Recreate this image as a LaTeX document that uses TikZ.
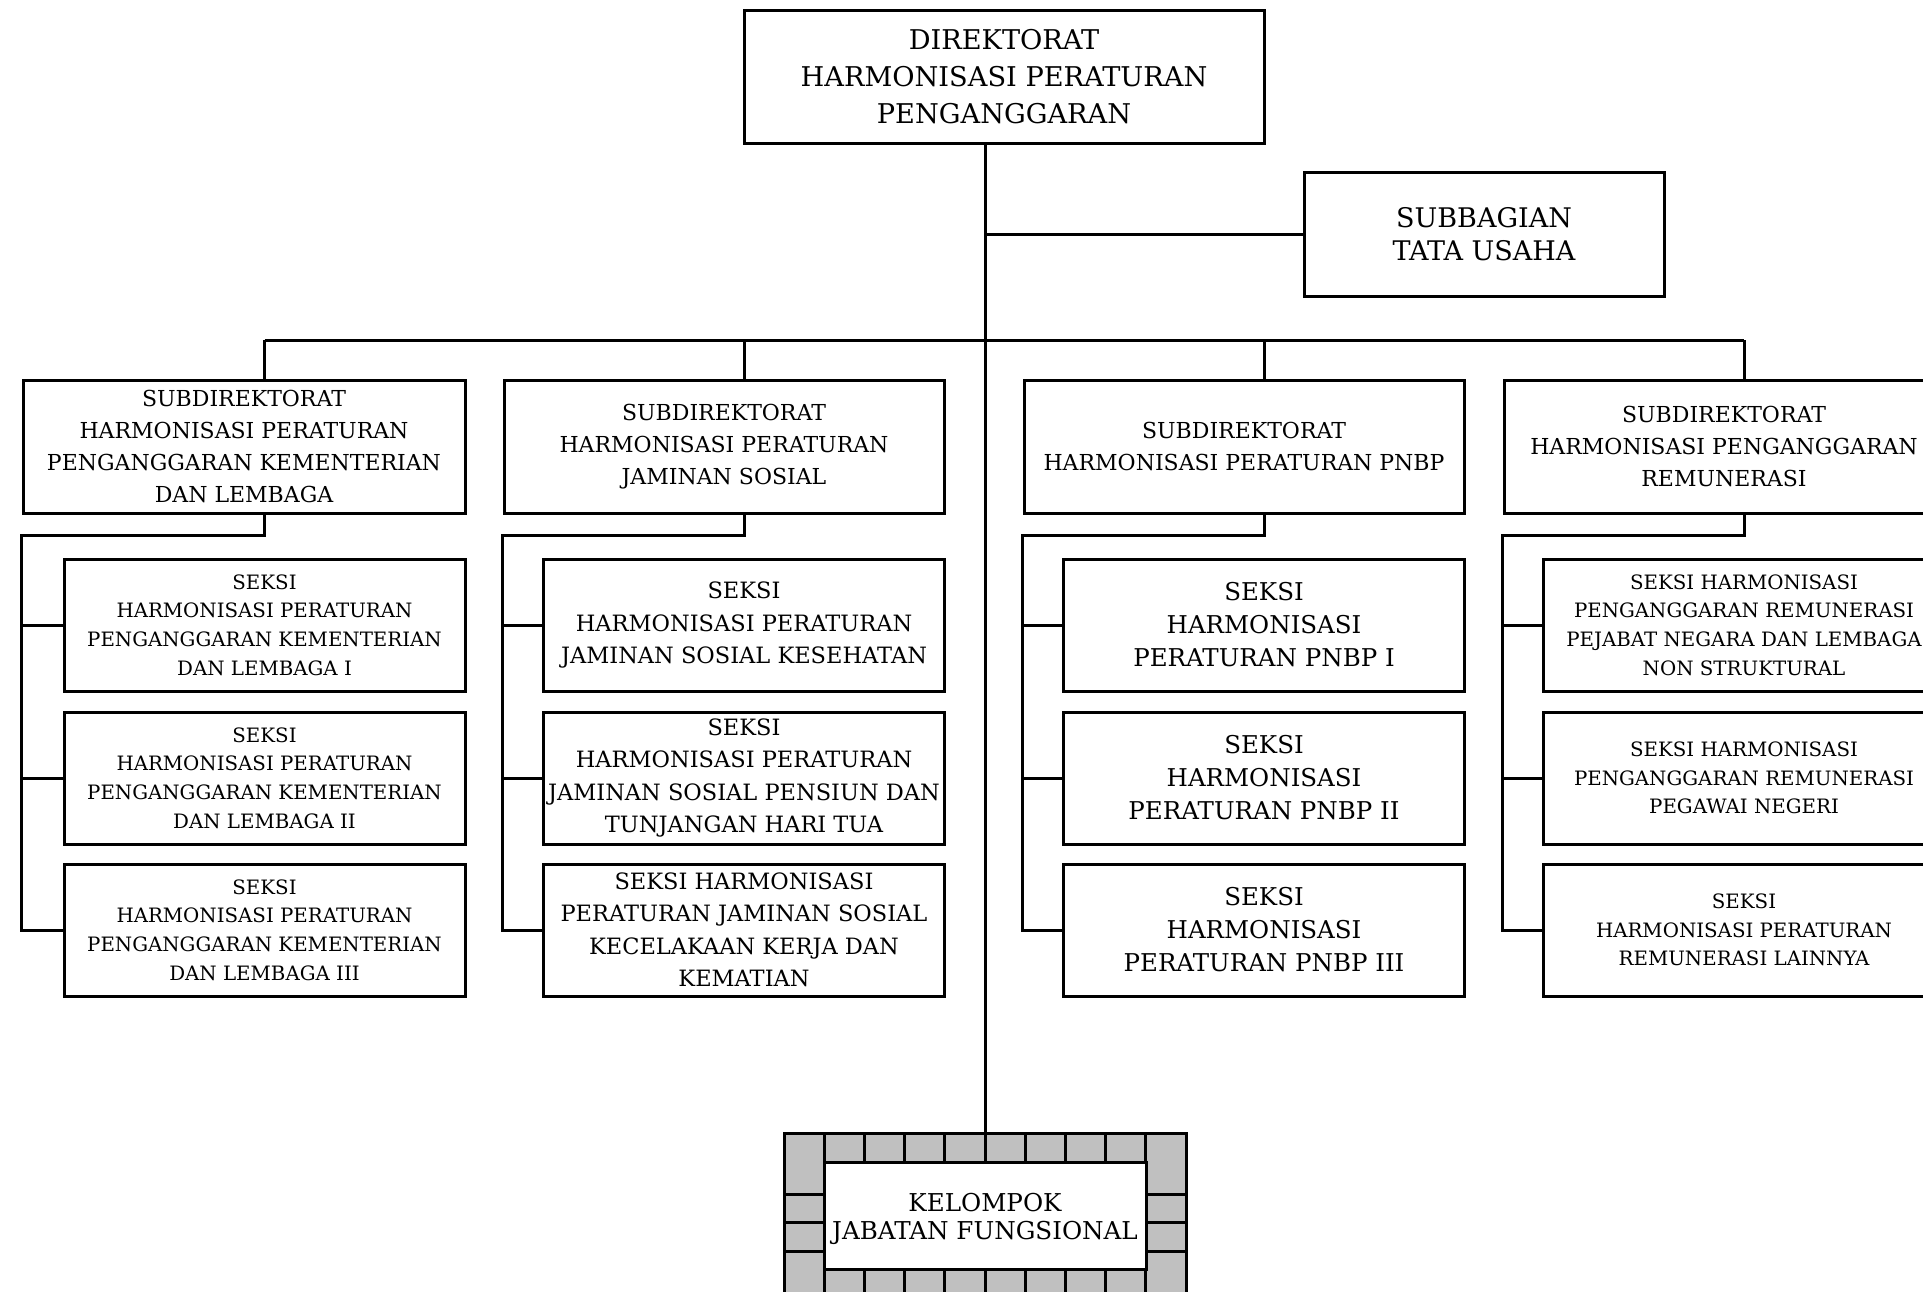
\documentclass[tikz,border=0pt]{standalone}
\usepackage{fontspec}
\setmainfont{DejaVu Serif}
\newcommand\fDir{\fontsize{27.2}{37}\selectfont}
\newcommand\fSbg{\fontsize{27}{33}\selectfont}
\newcommand\fMid{\fontsize{22}{32}\selectfont}
\newcommand\fSek{\fontsize{22.5}{32.5}\selectfont}
\newcommand\fSml{\fontsize{19.8}{28.7}\selectfont}
\newcommand\fBig{\fontsize{24.5}{33}\selectfont}
\newcommand\fKel{\fontsize{24.6}{28}\selectfont}
\definecolor{brick}{RGB}{192,192,192}
\begin{document}
\begin{tikzpicture}[x=1pt,y=-1pt,
  box/.style={draw, line width=3pt, align=center, inner sep=0pt},
  subbox/.style={box, minimum width=440pt, minimum height=133pt, font=\fMid},
  sekbox/.style={box, minimum width=401pt, minimum height=132pt},
  conn/.style={line width=3pt}]
\useasboundingbox (0,0) rectangle (1923,1291);
\clip (0,0) rectangle (1923,1291);
\fill[white] (0,0) rectangle (1923,1291);

\node[box, minimum width=520pt, minimum height=133pt, font=\fDir] (dir) at (1004,76.5) {DIREKTORAT\\HARMONISASI PERATURAN\\PENGANGGARAN};
\node[box, minimum width=360pt, minimum height=124pt, font=\fSbg] (sub) at (1484,234) {SUBBAGIAN\\TATA USAHA};

\node[subbox, minimum width=442pt] (s1) at (244,446.5) {SUBDIREKTORAT\\HARMONISASI PERATURAN\\PENGANGGARAN KEMENTERIAN\\DAN LEMBAGA};
\node[subbox] (s2) at (724,446.5) {SUBDIREKTORAT\\HARMONISASI PERATURAN\\JAMINAN SOSIAL};
\node[subbox] (s3) at (1244,446.5) {SUBDIREKTORAT\\HARMONISASI PERATURAN PNBP};
\node[subbox] (s4) at (1724,446.5) {SUBDIREKTORAT\\HARMONISASI PENGANGGARAN\\REMUNERASI};

\node[sekbox, font=\fSml] (k11) at (264.5,625) {SEKSI\\HARMONISASI PERATURAN\\PENGANGGARAN KEMENTERIAN\\DAN LEMBAGA I};
\node[sekbox, font=\fSml] (k12) at (264.5,778) {SEKSI\\HARMONISASI PERATURAN\\PENGANGGARAN KEMENTERIAN\\DAN LEMBAGA II};
\node[sekbox, font=\fSml] (k13) at (264.5,930) {SEKSI\\HARMONISASI PERATURAN\\PENGANGGARAN KEMENTERIAN\\DAN LEMBAGA III};

\node[sekbox, font=\fSek] (k21) at (744,625) {SEKSI\\HARMONISASI PERATURAN\\JAMINAN SOSIAL KESEHATAN};
\node[sekbox, font=\fSek] (k22) at (744,778) {SEKSI\\HARMONISASI PERATURAN\\JAMINAN SOSIAL PENSIUN DAN\\TUNJANGAN HARI TUA};
\node[sekbox, font=\fSek] (k23) at (744,930) {SEKSI HARMONISASI\\PERATURAN JAMINAN SOSIAL\\KECELAKAAN KERJA DAN\\KEMATIAN};

\node[sekbox, font=\fBig] (k31) at (1264,625) {SEKSI\\HARMONISASI\\PERATURAN PNBP I};
\node[sekbox, font=\fBig] (k32) at (1264,778) {SEKSI\\HARMONISASI\\PERATURAN PNBP II};
\node[sekbox, font=\fBig] (k33) at (1264,930) {SEKSI\\HARMONISASI\\PERATURAN PNBP III};

\node[sekbox, font=\fSml] (k41) at (1744,625) {SEKSI HARMONISASI\\PENGANGGARAN REMUNERASI\\PEJABAT NEGARA DAN LEMBAGA\\NON STRUKTURAL};
\node[sekbox, font=\fSml] (k42) at (1744,778) {SEKSI HARMONISASI\\PENGANGGARAN REMUNERASI\\PEGAWAI NEGERI};
\node[sekbox, font=\fSml] (k43) at (1744,930) {SEKSI\\HARMONISASI PERATURAN\\REMUNERASI LAINNYA};

% Kelompok jabatan fungsional (brick frame)
\node[box, fill=brick, minimum width=402pt, minimum height=166pt] (kelo) at (985,1216) {};
\node[box, fill=white, minimum width=322pt, minimum height=107pt, font=\fKel, text depth=0pt] (kel) at (985,1215.5) {};
\node[align=center, font=\fKel, inner sep=0pt] (keltxt) at (985,1219) {KELOMPOK\\JABATAN FUNGSIONAL};
\foreach \i in {1,...,9} {
  \draw[conn] (784+40.2*\i,1133) -- (784+40.2*\i,1162);
  \draw[conn] (784+40.2*\i,1269) -- (784+40.2*\i,1299);
}
\foreach \yy in {1194,1222,1251} {
  \draw[conn] (784,\yy) -- (824,\yy);
  \draw[conn] (1146,\yy) -- (1186,\yy);
}

% connectors
\draw[conn] (kelo.north |- dir.south) -- (kelo.north);
\draw[conn] (kelo.north |- sub.west) -- (sub.west);
\coordinate (bus) at (0,340);
\coordinate (jy) at (0,535);
\draw[conn] (k11.north |- bus) -- (k41.north |- bus);
\foreach \s/\k in {s1/k11,s2/k21,s3/k31,s4/k41}
  \draw[conn] (\k.north |- bus) -- (\k.north |- \s.north);
\foreach \s/\a/\b/\c in {s1/k11/k12/k13,s2/k21/k22/k23,s3/k31/k32/k33,s4/k41/k42/k43} {
  \draw[conn] (\a.north |- \s.south) -- (\a.north |- jy) -- (\s.west |- jy) -- (\s.west |- \c.west) -- (\c.west);
  \draw[conn] (\s.west |- \a.west) -- (\a.west);
  \draw[conn] (\s.west |- \b.west) -- (\b.west);
}
\end{tikzpicture}
\end{document}
